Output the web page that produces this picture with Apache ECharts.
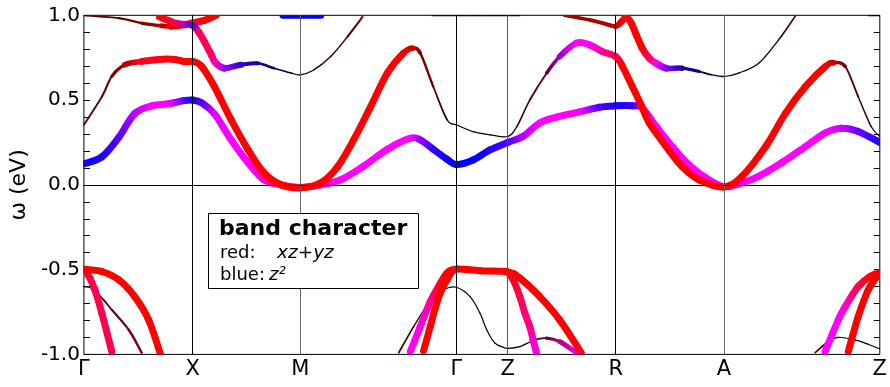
<!DOCTYPE html>
<html>
<head>
<meta charset="utf-8">
<script src="https://cdn.jsdelivr.net/npm/echarts@6/dist/echarts.min.js"></script>
<style>
  html, body { margin: 0; padding: 0; background: #fff; }
  #chart { width: 890px; height: 387px; }
</style>
</head>
<body>
<div id="chart"></div>
<script>
// k-path: distance along Γ-X-M-Γ-Z-R-A-Z
const kTicks = [0, 109.3, 217.3, 374.3, 425.7, 534.3, 643, 799.7];
const kLabels = ['Γ', 'X', 'M', 'Γ', 'Z', 'R', 'A', 'Z'];
const yMin = -1.0, yMax = 1.0, yStep = 0.1;

// each band row: [k, ω (eV), xz+yz weight, z² weight]
const band1 = [
  [0, 0.124, 0.05, 1], [18, 0.165, 0.1, 1], [35, 0.28, 0.35, 1], [51, 0.42, 0.7, 1],
  [68, 0.466, 1, 1], [85, 0.478, 1, 1], [101, 0.497, 0.3, 1], [109.3, 0.50, 0.1, 1],
  [118, 0.485, 0.3, 1], [131, 0.42, 0.9, 1], [148, 0.265, 1, 1], [165, 0.13, 1, 1],
  [181, 0.03, 1, 0.8], [198, 0.0, 1, 0.6], [217.3, -0.015, 1, 0.3], [238, 0.0, 1, 0.7],
  [258, 0.03, 1, 1], [281, 0.11, 1, 1], [305, 0.21, 1, 1], [328, 0.275, 1, 1],
  [338, 0.265, 0.6, 1], [351, 0.21, 0.2, 1], [365, 0.15, 0, 1], [374.3, 0.12, 0, 1],
  [391, 0.147, 0, 1], [408, 0.206, 0.1, 1], [425.7, 0.25, 0.3, 1], [441, 0.285, 0.7, 1],
  [458, 0.365, 1, 1], [475, 0.40, 1, 1], [498, 0.43, 1, 1], [518, 0.458, 0.3, 1],
  [534.3, 0.466, 0.1, 1], [551, 0.466, 0.2, 1], [561, 0.454, 0.8, 1], [575, 0.344, 1, 1],
  [591, 0.226, 1, 1], [608, 0.118, 1, 1], [625, 0.04, 1, 1], [643, -0.012, 1, 1],
  [658, 0.005, 1, 1], [678, 0.05, 1, 1], [701, 0.13, 1, 1], [725, 0.226, 1, 1],
  [745, 0.307, 1, 1], [761, 0.334, 0.8, 1], [778, 0.315, 0.4, 1], [799.7, 0.25, 0.1, 1]
];
const band2 = [
  [0, 0.354, 0.3, 0], [18, 0.52, 0.35, 0], [28, 0.64, 0.45, 0], [41, 0.708, 0.7, 0],
  [58, 0.728, 1, 0.1], [75, 0.74, 1, 0.1], [91, 0.74, 1, 0], [101, 0.727, 1, 0],
  [109.3, 0.727, 1, 0], [118, 0.70, 1, 0], [131, 0.58, 1, 0], [148, 0.383, 1, 0],
  [165, 0.206, 1, 0], [181, 0.07, 1, 0], [198, 0.0, 1, 0], [217.3, -0.018, 1, 0],
  [238, 0.012, 1, 0], [255, 0.108, 1, 0], [271, 0.265, 1, 0], [288, 0.46, 1, 0],
  [305, 0.66, 1, 0], [321, 0.777, 1, 0], [330, 0.806, 0.8, 0], [338, 0.777, 0.5, 0],
  [351, 0.58, 0.4, 0], [365, 0.383, 0.2, 0], [374.3, 0.354, 0, 0], [391, 0.314, 0, 0],
  [408, 0.295, 0, 0], [425.7, 0.285, 0.05, 0], [435, 0.344, 0.2, 0], [448, 0.50, 0.3, 0],
  [465, 0.66, 0.4, 0.2], [478, 0.757, 0.6, 0.8], [495, 0.836, 1, 1], [508, 0.826, 1, 1],
  [521, 0.786, 1, 0.6], [534.3, 0.757, 1, 0.3], [541, 0.70, 1, 0], [551, 0.58, 1, 0],
  [560, 0.47, 1, 0], [568, 0.365, 1, 0], [585, 0.226, 1, 0], [601, 0.108, 1, 0],
  [618, 0.03, 1, 0], [643, -0.012, 1, 0], [661, 0.049, 1, 0], [685, 0.226, 1, 0],
  [705, 0.423, 1, 0], [725, 0.58, 1, 0], [745, 0.698, 1, 0], [753, 0.72, 0.8, 0],
  [765, 0.698, 0.4, 0], [778, 0.52, 0.3, 0], [791, 0.344, 0.15, 0], [799.7, 0.285, 0, 0]
];
const band3a = [
  [0, 1.0, 0.3, 0], [35, 0.983, 0.35, 0], [58, 0.954, 0.5, 0], [78, 0.938, 0.7, 0],
  [88, 0.934, 0.9, 0], [101, 0.944, 1, 0], [109.3, 0.955, 1, 0.2], [121, 0.97, 1, 0],
  [133, 1.0, 1, 0]
];
const band3b = [
  [76, 0.99, 1, 0], [88, 0.963, 1, 0.2], [98, 0.95, 0.8, 0.6], [109.3, 0.94, 0.3, 1],
  [115, 0.904, 1, 0.4], [121, 0.845, 1, 0.3], [128, 0.767, 1, 0.4], [132, 0.722, 1, 0.7],
  [141, 0.688, 0.6, 1], [158, 0.708, 0.2, 0.8], [175, 0.717, 0.1, 0.6], [191, 0.688, 0, 0.35],
  [208, 0.66, 0, 0.1], [217.3, 0.649, 0, 0], [231, 0.678, 0.05, 0], [248, 0.757, 0.15, 0],
  [265, 0.875, 0.3, 0], [280, 0.99, 0.45, 0]
];
const band3c = [
  [483, 1.0, 0.6, 0], [508, 0.973, 0.65, 0], [521, 0.954, 0.7, 0], [534.3, 0.934, 0.7, 0],
  [538, 0.95, 0.9, 0], [543, 0.98, 1, 0], [546, 0.983, 1, 0], [550, 0.954, 1, 0],
  [555, 0.885, 1, 0], [561, 0.806, 1, 0], [568, 0.747, 1, 0.4], [575, 0.717, 1, 0.9],
  [585, 0.688, 0.5, 1], [601, 0.688, 0.1, 0.7], [618, 0.669, 0, 0.45], [630, 0.65, 0, 0.2],
  [643, 0.639, 0, 0], [658, 0.659, 0, 0], [678, 0.717, 0.05, 0], [698, 0.855, 0.2, 0],
  [715, 0.997, 0.3, 0]
];
const bandTopM = [[200, 1.0, 0, 1], [238, 1.0, 0, 1]];
const bandTopGZ = [[350, 0.998, 0, 0], [438, 0.998, 0, 0]];
const bandTopZ = [[788, 0.998, 0, 0], [799.7, 0.998, 0, 0]];

const lowG1 = [[0, -0.497, 1, 0], [18, -0.511, 1, 0], [35, -0.56, 1, 0], [51, -0.659, 1, 0], [65, -0.796, 1, 0], [77, -1.0, 1, 0]];
const lowG2 = [[0, -0.497, 1, 0.2], [6, -0.55, 1, 0.25], [11, -0.62, 1, 0.3], [18, -0.757, 1, 0.3], [28, -0.983, 1, 0.3]];
const lowG3 = [[0, -0.60, 0.2, 0], [8, -0.61, 0.25, 0], [19.7, -0.678, 0.3, 0.05], [28, -0.737, 0.35, 0.1], [45, -0.855, 0.45, 0.15], [58, -0.99, 0.5, 0.25]];
const lowGZR = [
  [328, -0.983, 1, 1], [338, -0.836, 1, 0.9], [348, -0.688, 1, 0.6], [356.3, -0.60, 1, 0.2],
  [364.7, -0.521, 1, 0], [374.3, -0.497, 1, 0], [398, -0.506, 1, 0], [425.7, -0.513, 1, 0],
  [438, -0.55, 1, 0], [458, -0.659, 1, 0], [478, -0.796, 1, 0], [499.7, -0.99, 1, 0.1]
];
const lowGsteep = [[341.3, -0.978, 1, 0], [348, -0.836, 1, 0], [353, -0.727, 1, 0], [358, -0.639, 1, 0], [364.7, -0.56, 1, 0], [370, -0.51, 1, 0], [374.3, -0.497, 1, 0]];
const lowGthin = [
  [316.3, -0.99, 0.35, 0], [331.3, -0.836, 0.25, 0], [344.7, -0.714, 0.1, 0], [358, -0.63, 0, 0],
  [364.7, -0.61, 0, 0], [374.3, -0.604, 0, 0], [388, -0.659, 0, 0], [398, -0.757, 0, 0],
  [404.7, -0.855, 0, 0], [413, -0.934, 0, 0], [421.3, -0.958, 0, 0], [425.7, -0.964, 0, 0],
  [438, -0.954, 0, 0], [453, -0.914, 0.1, 0], [464.7, -0.904, 0.4, 0.15], [478, -0.924, 0.7, 0.5],
  [494.7, -0.99, 0.9, 0.9]
];
const lowZ = [[425.7, -0.513, 1, 0], [431.3, -0.56, 1, 0.15], [438, -0.659, 1, 0.3], [443, -0.757, 1, 0.45], [448, -0.836, 1, 0.5], [451.3, -0.914, 1, 0.8], [454.7, -0.99, 1, 0.9]];
const lowZ2a = [[744.7, -0.983, 1, 1], [758, -0.796, 1, 1], [765, -0.718, 1, 0.8], [778, -0.60, 1, 0.3], [790, -0.54, 1, 0.05], [799.7, -0.517, 1, 0]];
const lowZ2b = [[768, -0.983, 1, 0], [771.3, -0.914, 1, 0], [778, -0.777, 1, 0], [788, -0.62, 1, 0], [799.7, -0.517, 1, 0]];
const lowZ2thin = [[734.7, -0.99, 0.35, 0], [748, -0.924, 0.15, 0], [758, -0.899, 0, 0], [774.7, -0.914, 0, 0], [788, -0.94, 0, 0], [799.7, -0.968, 0, 0]];

// drawing order: later bands on top
const bands = [
  lowG3, lowG2, lowG1, lowGthin, lowGZR, lowGsteep, lowZ, lowZ2thin, lowZ2a, lowZ2b,
  bandTopGZ, bandTopZ, bandTopM, band3a, band3b, band3c, band1, band2
];

const vLineColors = ['#000', '#666', '#000', '#555', '#000', '#666'];

// orbital character -> colour (red: xz+yz, blue: z²) and line width
function bandColor(r, b) {
  return 'rgb(' + Math.round(255 * r) + ',0,' + Math.round(255 * b) + ')';
}
function bandWidth(r, b) {
  const w = Math.max(r, b);
  return 1.2 + 5.8 * w * w;
}

// one data item per segment, with its neighbours for smooth curvature
function toSegments(band) {
  const out = [];
  for (let i = 0; i < band.length - 1; i++) {
    const p0 = band[Math.max(i - 1, 0)], p1 = band[i], p2 = band[i + 1], p3 = band[Math.min(i + 2, band.length - 1)];
    out.push([p1[0], p1[1], p2[0], p2[1], p0[0], p0[1], p3[0], p3[1], p1[2], p1[3], p2[2], p2[3]]);
  }
  return out;
}

function renderSegment(params, api) {
  const a = api.coord([api.value(0), api.value(1)]);
  const b = api.coord([api.value(2), api.value(3)]);
  const p = api.coord([api.value(4), api.value(5)]);
  const n = api.coord([api.value(6), api.value(7)]);
  const r0 = api.value(8), b0 = api.value(9), r1 = api.value(10), b1 = api.value(11);
  const cp1 = [a[0] + (b[0] - p[0]) / 6, a[1] + (b[1] - p[1]) / 6];
  const cp2 = [b[0] - (n[0] - a[0]) / 6, b[1] - (n[1] - a[1]) / 6];
  const stroke = new echarts.graphic.LinearGradient(a[0], a[1], b[0], b[1], [
    { offset: 0, color: bandColor(r0, b0) },
    { offset: 1, color: bandColor(r1, b1) }
  ], true);
  return {
    type: 'bezierCurve',
    shape: { x1: a[0], y1: a[1], x2: b[0], y2: b[1], cpx1: cp1[0], cpy1: cp1[1], cpx2: cp2[0], cpy2: cp2[1] },
    style: { stroke: stroke, fill: null, lineWidth: (bandWidth(r0, b0) + bandWidth(r1, b1)) / 2, lineCap: 'round' }
  };
}

const font = 'DejaVu Sans';
const chart = echarts.init(document.getElementById('chart'), null, { renderer: 'canvas' });

const series = [{
  type: 'line',
  data: [],
  z: 1,
  silent: true,
  markLine: {
    silent: true,
    symbol: 'none',
    animation: false,
    label: { show: false },
    data: kTicks.slice(1, -1).map((v, i) => ({ xAxis: v, lineStyle: { color: vLineColors[i], width: 1, type: 'solid' } }))
      .concat([{ yAxis: 0, lineStyle: { color: '#000', width: 1, type: 'solid' } }])
  }
}];
bands.forEach(band => {
  series.push({
    type: 'custom',
    z: 2,
    clip: true,
    silent: true,
    renderItem: renderSegment,
    encode: { x: [0, 2], y: [1, 3] },
    data: toSegments(band)
  });
});

chart.setOption({
  animation: false,
  backgroundColor: '#fff',
  textStyle: { fontFamily: font, color: '#000' },
  grid: { left: 82, right: 8.3, top: 15.3, bottom: 32.6, show: true, borderColor: '#000', borderWidth: 1, backgroundColor: 'transparent' },
  xAxis: {
    type: 'value', min: kTicks[0], max: kTicks[kTicks.length - 1],
    axisLine: { show: false }, axisTick: { show: false }, splitLine: { show: false },
    axisLabel: {
      customValues: kTicks,
      showMinLabel: true, showMaxLabel: true,
      fontFamily: font, fontSize: 21, color: '#000', margin: 5,
      formatter: v => {
        const i = kTicks.findIndex(t => Math.abs(t - v) < 0.01);
        return i >= 0 ? kLabels[i] : '';
      }
    }
  },
  yAxis: [{
    type: 'value', min: yMin, max: yMax, interval: yStep, position: 'left',
    name: 'ω (eV)', nameLocation: 'middle', nameRotate: 90, nameGap: 39,
    nameTextStyle: { fontFamily: font, fontSize: 22, color: '#000' },
    axisLine: { show: false },
    axisTick: { show: true, inside: true, length: 6, lineStyle: { color: '#000', width: 1 } },
    splitLine: { show: false },
    axisLabel: {
      fontFamily: font, fontSize: 20, color: '#000', margin: 4,
      formatter: v => {
        const h = v * 2;
        return Math.abs(h - Math.round(h)) < 1e-6 ? (Math.round(v * 10) / 10).toFixed(1) : '';
      }
    }
  }, {
    type: 'value', min: yMin, max: yMax, interval: yStep, position: 'right',
    axisLine: { show: false },
    axisTick: { show: true, inside: true, length: 6, lineStyle: { color: '#000', width: 1 } },
    splitLine: { show: false },
    axisLabel: { show: false }
  }],
  graphic: [
    { type: 'rect', z: 100, shape: { x: 208.5, y: 213.5, width: 210, height: 75 }, style: { fill: '#fff', stroke: '#000', lineWidth: 1 } },
    { type: 'text', z: 101, x: 219, y: 229.5, style: { text: 'band character', font: 'bold 22px "DejaVu Sans"', fill: '#000', verticalAlign: 'middle' } },
    { type: 'text', z: 101, x: 220, y: 253.5, style: { text: 'red:', font: '18px "DejaVu Sans"', fill: '#000', verticalAlign: 'middle' } },
    { type: 'text', z: 101, x: 277, y: 253.5, style: { text: 'xz+yz', font: 'italic 18.5px "DejaVu Sans"', fill: '#000', verticalAlign: 'middle' } },
    { type: 'text', z: 101, x: 220, y: 275.5, style: { text: 'blue:', font: '18px "DejaVu Sans"', fill: '#000', verticalAlign: 'middle' } },
    { type: 'text', z: 101, x: 269, y: 275.5, style: { text: 'z²', font: 'italic 18px "DejaVu Sans"', fill: '#000', verticalAlign: 'middle' } }
  ],
  series: series
});
</script>
</body>
</html>
